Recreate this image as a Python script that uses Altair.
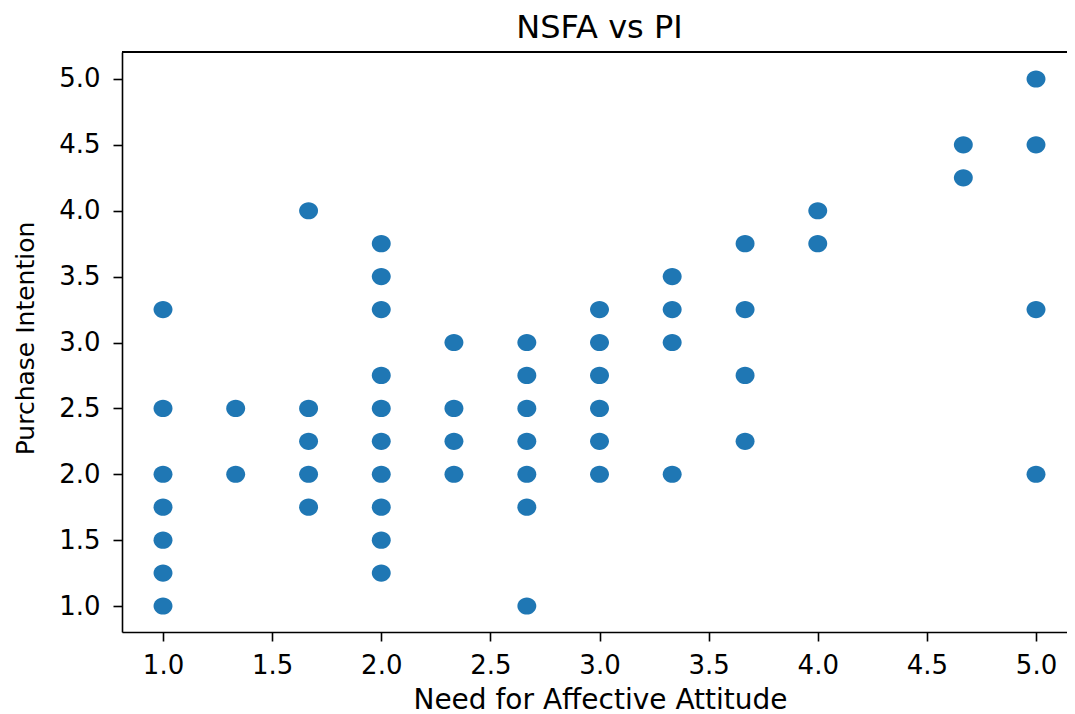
import altair as alt
import pandas as pd

# Need for Affective Attitude (x) and Purchase Intention (y)
nfaa = [1.0, 1.0, 1.0, 1.0, 1.0, 1.0, 1.0,
        1.333, 1.333,
        1.667, 1.667, 1.667, 1.667, 1.667,
        2.0, 2.0, 2.0, 2.0, 2.0, 2.0, 2.0, 2.0, 2.0, 2.0,
        2.333, 2.333, 2.333, 2.333,
        2.667, 2.667, 2.667, 2.667, 2.667, 2.667, 2.667,
        3.0, 3.0, 3.0, 3.0, 3.0, 3.0,
        3.333, 3.333, 3.333, 3.333,
        3.667, 3.667, 3.667, 3.667,
        4.0, 4.0,
        4.667, 4.667,
        5.0, 5.0, 5.0, 5.0]
pi = [3.25, 2.5, 2.0, 1.75, 1.5, 1.25, 1.0,
      2.5, 2.0,
      4.0, 2.5, 2.25, 2.0, 1.75,
      3.75, 3.5, 3.25, 2.75, 2.5, 2.25, 2.0, 1.75, 1.5, 1.25,
      3.0, 2.5, 2.25, 2.0,
      3.0, 2.75, 2.5, 2.25, 2.0, 1.75, 1.0,
      3.25, 3.0, 2.75, 2.5, 2.25, 2.0,
      3.5, 3.25, 3.0, 2.0,
      3.75, 3.25, 2.75, 2.25,
      4.0, 3.75,
      4.5, 4.25,
      5.0, 4.5, 3.25, 2.0]

x_ticks = [1.0, 1.5, 2.0, 2.5, 3.0, 3.5, 4.0, 4.5, 5.0]
y_ticks = [1.0, 1.5, 2.0, 2.5, 3.0, 3.5, 4.0, 4.5, 5.0]

df = pd.DataFrame({"NFAA": nfaa, "PI": pi})

W, H = 945, 580
FONT = "DejaVu Sans"
ELLIPSE = "M1.1,0 A1.1,1 0 1,1 -1.1,0 A1.1,1 0 1,1 1.1,0 Z"

common_axis = dict(
    grid=False, domainColor="black", domainWidth=1.6,
    tickColor="black", tickWidth=1.6, tickSize=9,
    labelFont=FONT, labelFontSize=26, labelColor="black",
    titleFont=FONT, titleFontWeight="normal", titleColor="black",
    format=".1f", labelFlush=False, labelOverlap=False,
)

points = alt.Chart(df).mark_point(
    shape=ELLIPSE, filled=True, size=296, color="#1f77b4", opacity=1, strokeWidth=0
).encode(
    x=alt.X("NFAA:Q",
            scale=alt.Scale(domain=[0.8121, 5.142], nice=False, zero=False),
            axis=alt.Axis(values=x_ticks, title="Need for Affective Attitude",
                          labelPadding=11, titleFontSize=28,
                          titleX=478, titleY=76, titleAlign="center",
                          titleBaseline="alphabetic", **common_axis)),
    y=alt.Y("PI:Q",
            scale=alt.Scale(domain=[0.8027, 5.2049], nice=False, zero=False),
            axis=alt.Axis(values=y_ticks, title="Purchase Intention",
                          labelPadding=13, titleFontSize=25, titleAngle=270,
                          titleX=-89, titleY=286, titleAlign="center",
                          titleBaseline="alphabetic", **common_axis)),
)

top_spine = alt.Chart(df).mark_rule(color="black", strokeWidth=1.6).encode(
    x=alt.value(0), x2=alt.value(W), y=alt.value(0)
)

chart = alt.layer(top_spine, points).properties(
    width=W, height=H,
    autosize=alt.AutoSizeParams(type="none"),
    padding={"left": 114, "top": 44, "right": 0, "bottom": 82},
    title=alt.TitleParams("NSFA vs PI", fontSize=32, fontWeight="normal",
                          font=FONT, color="black", anchor="middle",
                          baseline="alphabetic", offset=14, dx=5, dy=33),
).configure_view(stroke=None).configure(background="white")

chart.save("out.html", embed_options={"renderer": "svg", "actions": False})
